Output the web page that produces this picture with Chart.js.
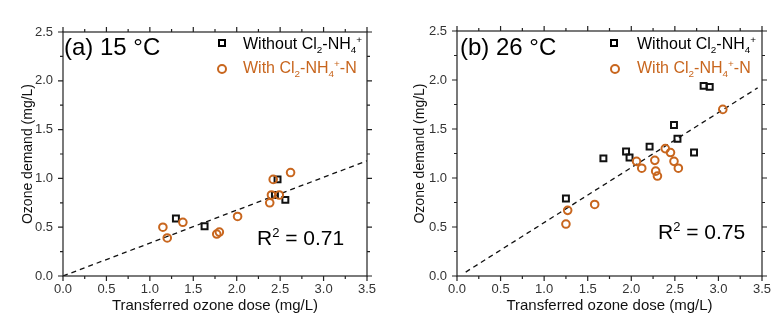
<!DOCTYPE html>
<html>
<head>
<meta charset="utf-8">
<script src="https://cdn.jsdelivr.net/npm/chart.js@4/dist/chart.umd.min.js"></script>
<style>
  body { margin: 0; background: #fff; width: 783px; height: 327px; position: relative; overflow: hidden;
         font-family: "Liberation Sans", Arial, sans-serif; }
  canvas { position: absolute; top: 0; }
  .txt { position: absolute; white-space: nowrap; line-height: 1; }
  .txt sub, .txt sup { font-size: 62%; line-height: 0; }
  .orange { color: #c8661e; }
  .sq { position: absolute; box-sizing: border-box; width: 8px; height: 8px; border: 2px solid #000; }
  .ci { position: absolute; box-sizing: border-box; width: 10px; height: 10px; border: 2px solid #c8661e; border-radius: 50%; }
</style>
</head>
<body>
<canvas id="chartA" width="392" height="327" style="left:0"></canvas>
<canvas id="chartB" width="391" height="327" style="left:392px"></canvas>

<div class="txt" style="left:64px;top:35px;font-size:24px">(a) 15 °C</div>
<span class="sq" style="left:218px;top:39px"></span>
<div class="txt" style="left:243px;top:36px;font-size:16px">Without Cl<sub>2</sub>-NH<sub>4</sub><sup>+</sup></div>
<span class="ci" style="left:217px;top:64px"></span>
<div class="txt orange" style="left:243px;top:60px;font-size:16px">With Cl<sub>2</sub>-NH<sub>4</sub><sup>+</sup>-N</div>
<div class="txt" style="left:257px;top:227px;font-size:21px">R<sup>2</sup> = 0.71</div>

<div class="txt" style="left:460px;top:35px;font-size:24px">(b) 26 °C</div>
<span class="sq" style="left:610px;top:39px"></span>
<div class="txt" style="left:637px;top:36px;font-size:16px">Without Cl<sub>2</sub>-NH<sub>4</sub><sup>+</sup></div>
<span class="ci" style="left:610px;top:64px"></span>
<div class="txt orange" style="left:637px;top:60px;font-size:16px">With Cl<sub>2</sub>-NH<sub>4</sub><sup>+</sup>-N</div>
<div class="txt" style="left:658px;top:221px;font-size:21px">R<sup>2</sup> = 0.75</div>

<script>
// (a) 15 °C
const aWithoutX = [1.30, 1.63, 2.44, 2.47, 2.56]
const aWithoutY = [0.59, 0.51, 0.83, 0.99, 0.78]
const aWithX = [1.15, 1.20, 1.38, 1.77, 1.80, 2.01, 2.38, 2.40, 2.42, 2.49, 2.62]
const aWithY = [0.50, 0.39, 0.55, 0.43, 0.45, 0.61, 0.75, 0.83, 0.99, 0.83, 1.06]
const aFitX = [0, 3.5]
const aFitY = [0, 1.18]

// (b) 26 °C
const bWithoutX = [1.25, 1.68, 1.94, 1.98, 2.21, 2.49, 2.53, 2.72, 2.83, 2.90]
const bWithoutY = [0.79, 1.20, 1.27, 1.21, 1.32, 1.54, 1.40, 1.26, 1.94, 1.93]
const bWithX = [1.25, 1.27, 1.58, 2.06, 2.12, 2.27, 2.28, 2.30, 2.39, 2.45, 2.49, 2.54, 3.05]
const bWithY = [0.53, 0.67, 0.73, 1.17, 1.10, 1.18, 1.07, 1.02, 1.30, 1.26, 1.17, 1.10, 1.70]
const bFitX = [0.1, 3.45]
const bFitY = [0.04, 1.92]

// axes
const xMax = 3.5, xStep = 0.5
const yMax = 2.5, yStep = 0.5
const xTitle = "Transferred ozone dose (mg/L)"
const yTitle = "Ozone demand (mg/L)"

const orange = "#c8661e"
const pts = (xs, ys) => xs.map((x, i) => ({ x, y: ys[i] }))

// box round the plot with outward major/minor ticks on all four sides
const framePlugin = {
  id: "frame",
  afterDraw(chart) {
    const { ctx, chartArea: a, scales: { x, y } } = chart
    ctx.save()
    ctx.strokeStyle = "#222"
    ctx.lineWidth = 1.2
    ctx.strokeRect(a.left, a.top, a.right - a.left, a.bottom - a.top)
    ctx.beginPath()
    for (let i = 0; i <= xMax / 0.25 + 1e-6; i++) {
      const v = i * 0.25, len = i % 2 === 0 ? 5 : 3
      const px = x.getPixelForValue(v)
      ctx.moveTo(px, a.bottom); ctx.lineTo(px, a.bottom + len)
      ctx.moveTo(px, a.top); ctx.lineTo(px, a.top - len)
    }
    for (let i = 0; i <= yMax / 0.25 + 1e-6; i++) {
      const v = i * 0.25, len = i % 2 === 0 ? 5 : 3
      const py = y.getPixelForValue(v)
      ctx.moveTo(a.left, py); ctx.lineTo(a.left - len, py)
      ctx.moveTo(a.right, py); ctx.lineTo(a.right + len, py)
    }
    ctx.stroke()
    ctx.restore()
  }
}

function makeChart(id, without, withN, fit, pad, yWidth) {
  return new Chart(document.getElementById(id), {
    type: "scatter",
    data: {
      datasets: [
        {
          data: withN, order: 0,
          pointStyle: "circle", pointRadius: 3.8, pointBorderWidth: 2,
          borderColor: orange, backgroundColor: "transparent"
        },
        {
          data: without, order: 1,
          pointStyle: "rect", pointRadius: 4.2, pointBorderWidth: 2,
          borderColor: "#111", backgroundColor: "transparent"
        },
        {
          data: fit, order: 2, showLine: true, pointRadius: 0,
          borderColor: "#111", borderWidth: 1.3, borderDash: [5, 4]
        }
      ]
    },
    options: {
      responsive: false,
      animation: false,
      devicePixelRatio: 1,
      layout: { padding: pad },
      plugins: { legend: { display: false }, tooltip: { enabled: false } },
      scales: {
        x: {
          min: 0, max: xMax,
          grid: { display: false, drawTicks: false },
          border: { display: false },
          ticks: { stepSize: xStep, padding: 6, color: "#333", font: { size: 13 }, callback: v => v.toFixed(1) },
          title: { display: true, text: xTitle, color: "#111", font: { size: 15 }, padding: { top: 0, bottom: 12 } },
          afterFit(s) { s.height = 51 }
        },
        y: {
          min: 0, max: yMax,
          grid: { display: false, drawTicks: false },
          border: { display: false },
          ticks: { stepSize: yStep, padding: 10, color: "#333", font: { size: 13 }, callback: v => v.toFixed(1) },
          title: { display: true, text: yTitle, color: "#111", font: { size: 14 }, padding: { top: 20, bottom: 0 } },
          afterFit(s) { s.width = yWidth }
        }
      }
    },
    plugins: [framePlugin]
  })
}

Chart.defaults.font.family = '"Liberation Sans", Arial, sans-serif'

makeChart("chartA", pts(aWithoutX, aWithoutY), pts(aWithX, aWithY), pts(aFitX, aFitY),
  { left: 0, right: 25, top: 32, bottom: 0 }, 63)
makeChart("chartB", pts(bWithoutX, bWithoutY), pts(bWithX, bWithY), pts(bFitX, bFitY),
  { left: 0, right: 21, top: 31, bottom: 0 }, 65)
</script>
</body>
</html>
